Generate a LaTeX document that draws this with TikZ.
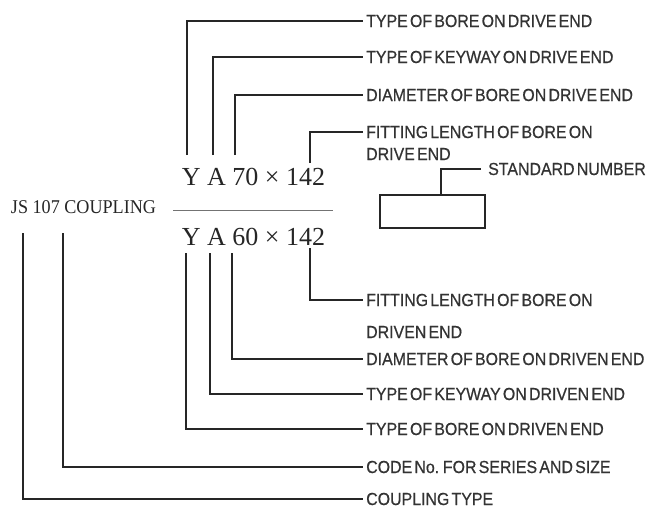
\documentclass[tikz,border=0pt]{standalone}
\usepackage{fontspec}
\setmainfont{Liberation Serif}
\newfontfamily\lblfont[FakeStretch=0.91,WordSpace=0.5,FakeBold=0.6]{Liberation Sans}
\newfontfamily\jsfont[FakeStretch=0.93]{Liberation Serif}

\begin{document}
\begin{tikzpicture}[x=1pt, y=-1pt,
  lead/.style={line width=1.8pt, black!85},
  lbl/.style={font=\lblfont\fontsize{17.5}{19}\selectfont, anchor=west, inner xsep=3pt, inner ysep=0pt, text=black!80},
  code/.style={font=\fontsize{26}{28}\selectfont, anchor=base, inner sep=0pt, text=black!85}]

  \useasboundingbox (0,0) rectangle (655,508);

  % designation
  \node[code] (num) at (253.5,185) {Y A 70 × 142};
  \node[code] (den) at (253.5,245) {Y A 60 × 142};
  \node[font=\jsfont\fontsize{19.5}{21}\selectfont, anchor=base, inner sep=0pt, text=black!85] (js) at (83.5,213) {JS 107 COUPLING};
  \coordinate (barL) at (173,210);
  \coordinate (barR) at (333,210);
  \draw[line width=1pt, black!55] (barL) -- (barR);

  % drive end labels
  \node[lbl] (tb1) at (363,21) {TYPE OF BORE ON DRIVE END};
  \node[lbl] (tk1) at (363,57) {TYPE OF KEYWAY ON DRIVE END};
  \node[lbl] (db1) at (363,95) {DIAMETER OF BORE ON DRIVE END};
  \node[lbl] (fl1) at (363,132) {FITTING LENGTH OF BORE ON};
  \node[lbl] (fl1b) at (363,154) {DRIVE END};

  % standard number
  \node[draw, line width=1.8pt, black!85, minimum width=105pt, minimum height=33pt, inner sep=0pt] (stdbox) at (432.5,211.5) {};
  \node[lbl, inner xsep=7pt] (sn) at (481,169) {STANDARD NUMBER};

  % driven end labels
  \node[lbl] (fl2) at (363,300) {FITTING LENGTH OF BORE ON};
  \node[lbl] (fl2b) at (363,332) {DRIVEN END};
  \node[lbl] (db2) at (363,359) {DIAMETER OF BORE ON DRIVEN END};
  \node[lbl] (tk2) at (363,394) {TYPE OF KEYWAY ON DRIVEN END};
  \node[lbl] (tb2) at (363,429) {TYPE OF BORE ON DRIVEN END};
  \node[lbl] (cd) at (363,467) {CODE No. FOR SERIES AND SIZE};
  \node[lbl] (ct) at (363,499) {COUPLING TYPE};

  % leader start points
  \coordinate (pY1) at (187,155);
  \coordinate (pA1) at (213,155);
  \coordinate (pD1) at (235,155);
  \coordinate (pL1) at (310,163);
  \coordinate (pY2) at (186,253);
  \coordinate (pA2) at (210,253);
  \coordinate (pD2) at (232,253);
  \coordinate (pL2) at (310,248);
  \coordinate (pNo) at (63,233);
  \coordinate (pJS) at (23,233);

  % leaders
  \draw[lead] (pY1) |- (tb1.west);
  \draw[lead] (pA1) |- (tk1.west);
  \draw[lead] (pD1) |- (db1.west);
  \draw[lead] (pL1) |- (fl1.west);
  \draw[lead] ([xshift=8.5pt]stdbox.north) |- (sn.west);
  \draw[lead] (pL2) |- (fl2.west);
  \draw[lead] (pD2) |- (db2.west);
  \draw[lead] (pA2) |- (tk2.west);
  \draw[lead] (pY2) |- (tb2.west);
  \draw[lead] (pNo) |- (cd.west);
  \draw[lead] (pJS) |- (ct.west);

\end{tikzpicture}
\end{document}
